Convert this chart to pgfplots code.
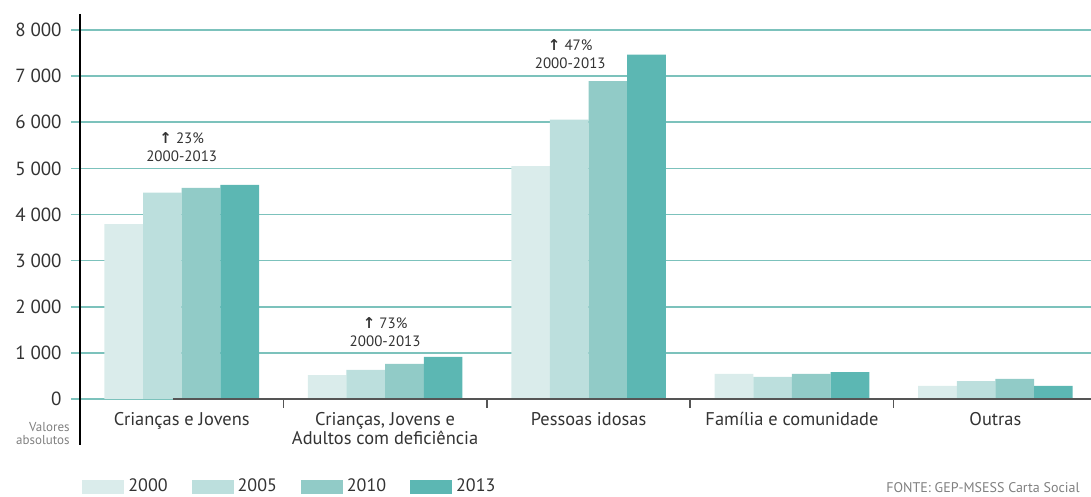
\documentclass[border=0pt]{standalone}
\usepackage{fontspec}
\setmainfont{PT Sans}
\newfontfamily\symfont{DejaVu Sans}
\usepackage{pgfplots}
\pgfplotsset{compat=1.18}
\definecolor{cA}{HTML}{DAECEB}
\definecolor{cB}{HTML}{BCDFDD}
\definecolor{cC}{HTML}{91CBC7}
\definecolor{cD}{HTML}{5CB7B3}
\definecolor{gridc}{HTML}{7CC2BC}
\definecolor{axisc}{HTML}{555555}
\definecolor{txt}{HTML}{333333}
\begin{document}
\begin{tikzpicture}[x=1pt,y=1pt]
\path[use as bounding box] (-40,-49) rectangle (505.5,199.5);
\begin{axis}[
  at={(0,0)}, anchor=south west,
  scale only axis, width=505.5pt, height=184.5pt,
  xmin=-0.5, xmax=4.47, ymin=0, ymax=8000,
  axis line style={draw=none},
  ybar=0pt, bar width=0.19,
  xtick pos=bottom, ytick pos=left,
  xtick={0,1,2,3,4},
  xticklabels={Crianças e Jovens,{Crianças, Jovens e\\Adultos com deficiência},Pessoas idosas,Família e comunidade,Outras},
  xtick style={draw=none},
  minor xtick={0.5,1.5,2.5,3.5},
  minor x tick style={draw=axisc, line width=0.8pt},
  minor tick length=4.5pt,
  major tick length=4.5pt,
  tick align=outside,
  xticklabel style={align=center, anchor=north, inner sep=0pt, yshift=-2pt, font=\fontsize{9.2}{9.5}\selectfont, text=txt},
  ytick={0,1000,...,8000},
  ytick style={draw=gridc, line width=0.8pt},
  ymajorgrids, grid style={draw=gridc, line width=0.8pt},
  yticklabel style={font=\fontsize{9.5}{10}\selectfont, text=txt, inner sep=0pt, xshift=-4.5pt},
  /pgf/number format/.cd, 1000 sep={\hspace{0.25em}}, assume math mode=true,
  /pgfplots/.cd,
  legend columns=4,
  legend style={at={(0.002,-0.238)}, anchor=west, draw=none, fill=none, inner sep=0pt,
    font=\fontsize{9}{9}\selectfont, text=txt,
    /tikz/every even column/.append style={column sep=10pt}},
  legend image code/.code={\fill[#1] (0pt,-3.5pt) rectangle (21pt,3.5pt);},
  clip=false,
]
\addplot[fill=cA, draw=none] coordinates {(0,3790) (1,520) (2,5050) (3,542) (4,282)};
\addplot[fill=cB, draw=none] coordinates {(0,4473) (1,629) (2,6056) (3,477) (4,390)};
\addplot[fill=cC, draw=none] coordinates {(0,4575) (1,759) (2,6894) (3,542) (4,434)};
\addplot[fill=cD, draw=none] coordinates {(0,4640) (1,911) (2,7465) (3,585) (4,282)};
\legend{2000,2005,2010,2013}
\draw[axisc, line width=0.9pt] (rel axis cs:0,0) ++(-4.5pt,0) -- (rel axis cs:1,0);
\node[align=center, font=\fontsize{7.5}{9}\selectfont, text=txt] at (axis cs:0,5460) {{\symfont\fontsize{7.5}{9}\selectfont\bfseries↑} 23\%\\2000-2013};
\node[align=center, font=\fontsize{7.5}{9}\selectfont, text=txt] at (axis cs:1,1440) {{\symfont\fontsize{7.5}{9}\selectfont\bfseries↑} 73\%\\2000-2013};
\node[align=center, font=\fontsize{7.5}{9}\selectfont, text=txt] at (axis cs:1.91,7480) {{\symfont\fontsize{7.5}{9}\selectfont\bfseries↑} 47\%\\2000-2013};
\end{axis}
\draw[black, line width=0.8pt] (0,192.5) -- (0,-23);
\node[anchor=east, align=right, font=\fontsize{6.5}{6.5}\selectfont, text=gray, inner sep=0pt] at (-5,-17.5) {Valores\\absolutos};
\node[anchor=west, font=\fontsize{7}{7}\selectfont, text=gray, inner sep=0pt] at (403,-44.5) {FONTE: GEP-MSESS Carta Social};
\end{tikzpicture}
\end{document}
